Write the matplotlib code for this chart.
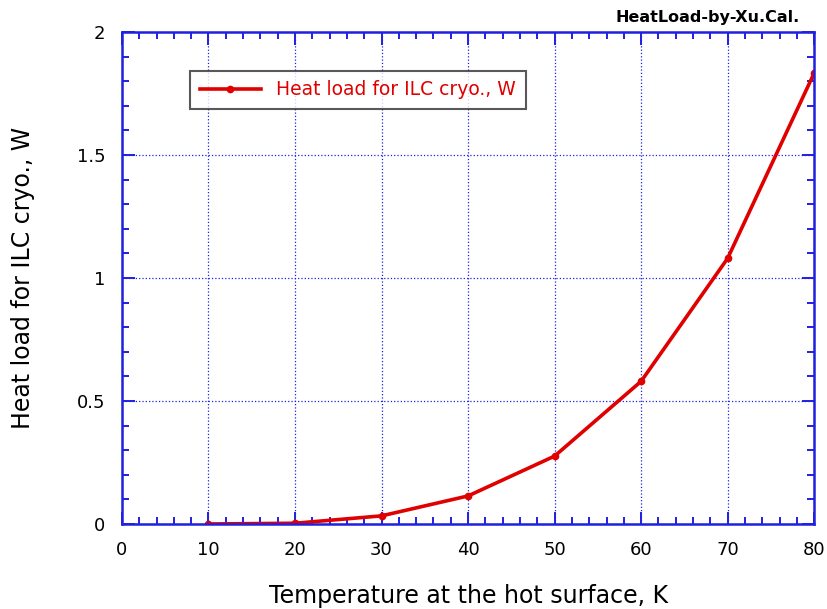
# -*- coding: utf-8 -*-
import numpy as np
import matplotlib.pyplot as plt
from matplotlib.ticker import MultipleLocator

# Data
temperature = [10, 20, 30, 40, 50, 60, 70, 80]
heat_load = [0.0, 0.003, 0.033, 0.114, 0.276, 0.58, 1.08, 1.833]

blue = '#2020e0'
red = '#e00000'

fig = plt.figure(figsize=(8.28, 6.09), dpi=100)
ax = fig.add_axes([0.1473, 0.1396, 0.836, 0.8079])

ax.plot(temperature, heat_load, color=red, linewidth=2.6, marker='o',
        markersize=4.5, markerfacecolor=red, markeredgecolor=red,
        label='Heat load for ILC cryo., W')

ax.set_xlim(0, 80)
ax.set_ylim(0, 2)
ax.xaxis.set_major_locator(MultipleLocator(10))
ax.xaxis.set_minor_locator(MultipleLocator(2))
ax.yaxis.set_minor_locator(MultipleLocator(0.1))
ax.set_yticks([0, 0.5, 1, 1.5, 2])
ax.set_yticklabels(['0', '0.5', '1', '1.5', '2'])

for s in ax.spines.values():
    s.set_color(blue)
    s.set_linewidth(1.8)
ax.tick_params(which='both', direction='in', color=blue, top=True, right=True,
               width=1.4, labelsize=13, labelcolor='black')
ax.tick_params(which='major', length=9, pad=12)
ax.tick_params(which='minor', length=5)

ax.grid(True, which='major', color=blue, linestyle=':', linewidth=0.9)

ax.set_xlabel('Temperature at the hot surface, K', fontsize=17, labelpad=18)
ax.set_ylabel('Heat load for ILC cryo., W', fontsize=17, labelpad=30)

leg = ax.legend(loc='upper left', bbox_to_anchor=(0.085, 0.94), fontsize=13.5,
                frameon=True, fancybox=False, handlelength=3.3,
                borderpad=0.5, labelcolor=red)
leg.get_frame().set_edgecolor('#303030')
leg.get_frame().set_linewidth(1.5)

fig.text(0.966, 0.972, 'HeatLoad-by-Xu.Cal.', ha='right', va='center',
         fontsize=11.5, fontweight='bold')

fig.savefig('out.png', dpi=100)
